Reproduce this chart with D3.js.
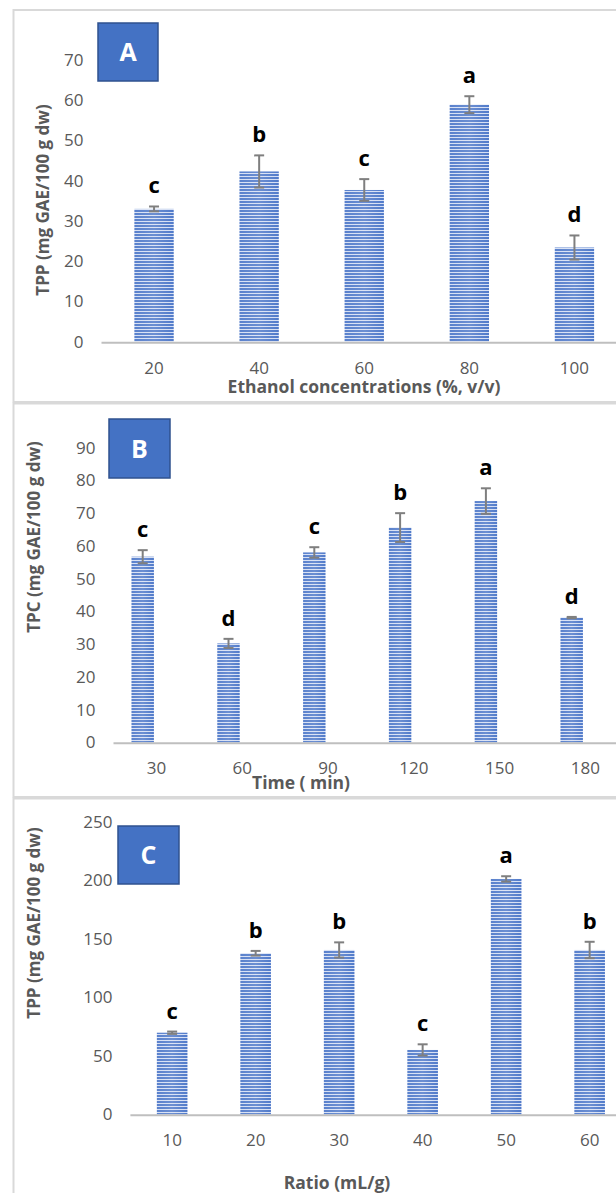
<!DOCTYPE html>
<html>
<head>
<meta charset="utf-8">
<script src="https://cdn.jsdelivr.net/npm/d3@7"></script>
<style>
  body { margin: 0; background: #fff; }
  svg { display: block; font-family: 'Open Sans', sans-serif; }
</style>
</head>
<body>
<div id="chart"></div>
<script>
// Panel A: ethanol concentration
const ethanolCats = ['20', '40', '60', '80', '100'];
const ethanolTPP = [33.0, 42.3, 37.7, 58.9, 23.4];
const ethanolErr = [0.6, 4.0, 2.7, 2.1, 3.0];
const ethanolLetters = ['c', 'b', 'c', 'a', 'd'];
const ethanolTicks = [0, 10, 20, 30, 40, 50, 60, 70];

// Panel B: extraction time
const timeCats = ['30', '60', '90', '120', '150', '180'];
const timeTPC = [56.7, 30.2, 58.0, 65.6, 73.7, 38.1];
const timeErr = [2.0, 1.4, 1.6, 4.4, 3.9, 0.2];
const timeLetters = ['c', 'd', 'c', 'b', 'a', 'd'];
const timeTicks = [0, 10, 20, 30, 40, 50, 60, 70, 80, 90];

// Panel C: solvent/solid ratio
const ratioCats = ['10', '20', '30', '40', '50', '60'];
const ratioTPP = [69.7, 137.6, 140.4, 55.0, 201.1, 140.4];
const ratioErr = [1.0, 2.0, 6.5, 4.8, 2.3, 7.0];
const ratioLetters = ['c', 'b', 'b', 'c', 'a', 'b'];
const ratioTicks = [0, 50, 100, 150, 200, 250];

const width = 616;
const height = 1193;

// layout of each panel (pixels)
const panels = [
  {
    tag: 'A', cats: ethanolCats, values: ethanolTPP, errs: ethanolErr, letters: ethanolLetters, ticks: ethanolTicks,
    yMax: 70, frame: [10, 402], left: 101.5, right: 627, top: 60, bottom: 341.7,
    series: ['TPP'], inner: 0, outer: 0.837,
    yTitle: 'TPP (mg GAE/100 g dw)', yTitlePos: [43, 200],
    xTitle: 'Ethanol concentrations (%, v/v)', xTitlePos: [364, 393],
    box: [98, 23, 60, 58],
  },
  {
    tag: 'B', cats: timeCats, values: timeTPC, errs: timeErr, letters: timeLetters, ticks: timeTicks,
    yMax: 90, frame: [403.5, 797], left: 113.5, right: 628.3, top: 447.7, bottom: 742.3,
    series: ['TPC', ''], inner: 0.182, outer: 0.657,
    yTitle: 'TPC (mg GAE/100 g dw)', yTitlePos: [34, 537],
    xTitle: 'Time ( min)', xTitlePos: [301, 789],
    box: [109, 419, 61, 59],
  },
  {
    tag: 'C', cats: ratioCats, values: ratioTPP, errs: ratioErr, letters: ratioLetters, ticks: ratioTicks,
    yMax: 250, frame: [798.5, 1200], left: 130.4, right: 631.4, top: 821.7, bottom: 1114.3,
    series: ['TPP'], inner: 0, outer: 0.866,
    yTitle: 'TPP (mg GAE/100 g dw)', yTitlePos: [34, 923],
    xTitle: 'Ratio (mL/g)', xTitlePos: [337, 1189],
    box: [118, 826, 61, 58],
  },
];

const svg = d3.select('#chart')
  .append('svg')
  .attr('width', width)
  .attr('height', height)
  .style('background-color', 'white');

// striped bar fill
const defs = svg.append('defs');
const pattern = defs.append('pattern')
  .attr('id', 'stripes')
  .attr('patternUnits', 'userSpaceOnUse')
  .attr('width', 10)
  .attr('height', 3);
pattern.append('rect').attr('width', 10).attr('height', 3).attr('fill', '#d3ddf3');
pattern.append('rect').attr('width', 10).attr('height', 2).attr('fill', '#4773c7');

const shade = defs.append('linearGradient').attr('id', 'shade');
shade.append('stop').attr('offset', '0%').attr('stop-color', '#fff').attr('stop-opacity', 0.1);
shade.append('stop').attr('offset', '50%').attr('stop-color', '#fff').attr('stop-opacity', 0.2);
shade.append('stop').attr('offset', '100%').attr('stop-color', '#fff').attr('stop-opacity', 0.05);

panels.forEach((p) => {
  const g = svg.append('g');

  // panel frame
  g.append('rect')
    .attr('x', 13.5)
    .attr('y', p.frame[0])
    .attr('width', 620)
    .attr('height', p.frame[1] - p.frame[0])
    .attr('fill', 'none')
    .attr('stroke', '#d9d9d9')
    .attr('stroke-width', 2);

  const x = d3.scaleBand().domain(p.cats).range([p.left, p.right]).padding(0);
  const x1 = d3.scaleBand().domain(p.series).range([0, x.bandwidth()])
    .paddingInner(p.inner).paddingOuter(p.outer);
  const y = d3.scaleLinear().domain([0, p.yMax]).range([p.bottom, p.top]);

  const rows = p.cats.map((c, i) => ({ cat: c, value: p.values[i], err: p.errs[i], letter: p.letters[i] }));

  // y axis labels
  g.append('g')
    .attr('transform', `translate(${p.left},0)`)
    .call(d3.axisLeft(y).tickValues(p.ticks).tickSize(0).tickPadding(18))
    .call((ax) => ax.select('.domain').remove())
    .call((ax) => ax.selectAll('text')
      .attr('fill', '#595959')
      .style('font-size', '17px')
      .style('font-family', "'Open Sans', sans-serif"));

  // bars
  const bx = (d) => x(d.cat) + x1(p.series[0]);
  g.append('g')
    .selectAll('rect')
    .data(rows)
    .enter()
    .append('rect')
    .attr('x', bx)
    .attr('y', (d) => y(d.value))
    .attr('width', x1.bandwidth())
    .attr('height', (d) => y(0) - y(d.value))
    .attr('fill', 'url(#stripes)');
  g.append('g')
    .selectAll('rect')
    .data(rows)
    .enter()
    .append('rect')
    .attr('x', bx)
    .attr('y', (d) => y(d.value))
    .attr('width', x1.bandwidth())
    .attr('height', (d) => y(0) - y(d.value))
    .attr('fill', 'url(#shade)');

  // x axis line and labels
  g.append('line')
    .attr('x1', p.left)
    .attr('x2', width + 5)
    .attr('y1', y(0) + 1)
    .attr('y2', y(0) + 1)
    .attr('stroke', '#bfbfbf')
    .attr('stroke-width', 2);

  g.append('g')
    .attr('transform', `translate(0,${p.bottom})`)
    .call(d3.axisBottom(x).tickSize(0).tickPadding(20))
    .call((ax) => ax.select('.domain').remove())
    .call((ax) => ax.selectAll('text')
      .attr('fill', '#595959')
      .style('font-size', '17px')
      .style('font-family', "'Open Sans', sans-serif"));

  // error bars
  const cx = (d) => bx(d) + x1.bandwidth() / 2;
  const eb = g.append('g').attr('stroke', '#7f7f7f').attr('stroke-width', 2);
  eb.selectAll('.stem')
    .data(rows)
    .enter()
    .append('line')
    .attr('x1', cx).attr('x2', cx)
    .attr('y1', (d) => y(d.value + d.err))
    .attr('y2', (d) => y(d.value - d.err));
  ['top', 'bot'].forEach((k) => {
    eb.selectAll('.cap-' + k)
      .data(rows)
      .enter()
      .append('line')
      .attr('x1', (d) => cx(d) - 5)
      .attr('x2', (d) => cx(d) + 5)
      .attr('y1', (d) => y(k === 'top' ? d.value + d.err : d.value - d.err))
      .attr('y2', (d) => y(k === 'top' ? d.value + d.err : d.value - d.err));
  });

  // significance letters
  g.append('g')
    .selectAll('text')
    .data(rows)
    .enter()
    .append('text')
    .attr('x', cx)
    .attr('y', (d) => y(d.value + d.err) - 13)
    .attr('text-anchor', 'middle')
    .attr('fill', '#000')
    .style('font-size', '22px')
    .style('font-weight', 700)
    .text((d) => d.letter);

  // axis titles
  g.append('text')
    .attr('transform', `translate(${p.yTitlePos[0]},${p.yTitlePos[1]}) rotate(-90)`)
    .attr('text-anchor', 'middle')
    .attr('dy', '0.35em')
    .attr('fill', '#595959')
    .style('font-size', '17px')
    .style('font-weight', 700)
    .text(p.yTitle);

  g.append('text')
    .attr('x', p.xTitlePos[0])
    .attr('y', p.xTitlePos[1])
    .attr('text-anchor', 'middle')
    .attr('fill', '#595959')
    .style('font-size', '17.5px')
    .style('font-weight', 700)
    .text(p.xTitle);

  // panel tag box
  g.append('rect')
    .attr('x', p.box[0])
    .attr('y', p.box[1])
    .attr('width', p.box[2])
    .attr('height', p.box[3])
    .attr('fill', '#4472c4')
    .attr('stroke', '#2f528f')
    .attr('stroke-width', 1.5);
  g.append('text')
    .attr('x', p.box[0] + p.box[2] / 2)
    .attr('y', p.box[1] + p.box[3] / 2)
    .attr('dy', '0.36em')
    .attr('text-anchor', 'middle')
    .attr('fill', '#fff')
    .style('font-size', '25px')
    .style('font-weight', 700)
    .text(p.tag);
});
</script>
</body>
</html>
